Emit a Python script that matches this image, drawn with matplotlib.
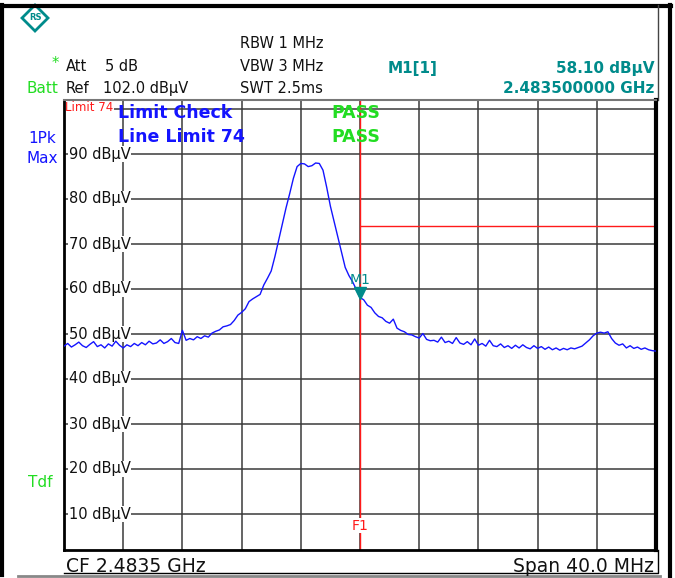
import numpy as np
import matplotlib
matplotlib.use('Agg')
import matplotlib.pyplot as plt
import matplotlib.transforms as mtransforms
from matplotlib.patches import Polygon

# instrument settings
cf_mhz = 2483.5
span_mhz = 40.0
ref_level = 102.0
limit_level = 74
marker_freq = 2483.5
marker_level = 58.10
y_ticks = [90, 80, 70, 60, 50, 40, 30, 20, 10]

# trace levels (dBuV), every 0.25 MHz from 2463.5 to 2503.5 MHz
trace_dbuv = [
    47.3, 47.9, 47.1, 47.6, 48.2, 47.4, 47.0, 47.7, 48.3, 47.2,
    47.6, 46.9, 47.8, 47.3, 48.4, 47.5, 46.9, 47.6, 47.2, 47.9,
    47.4, 48.1, 47.6, 48.4, 47.8, 48.0, 48.7, 47.9, 48.3, 49.0,
    48.1, 47.9, 50.8, 48.6, 49.0, 48.7, 49.4, 49.0, 49.6, 49.3,
    50.2, 50.6, 50.9, 51.6, 51.8, 52.1, 53.0, 54.2, 54.8, 55.6,
    57.2, 57.8, 58.3, 58.8, 60.9, 62.4, 64.0, 67.2, 70.8, 74.5,
    78.0, 81.2, 84.6, 87.2, 87.9, 87.8, 87.2, 87.4, 88.0, 87.9,
    86.4, 82.6, 78.4, 75.0, 71.6, 68.2, 64.8, 63.0, 61.6, 59.9,
    58.1, 57.6, 56.4, 55.9, 54.7, 53.9, 53.6, 52.8, 52.4, 53.3,
    51.3, 50.8, 50.5, 49.9, 49.8, 49.4, 49.1, 50.1, 48.8, 48.5,
    48.6, 48.2, 49.3, 48.1, 48.4, 47.9, 49.2, 48.0, 47.7, 48.3,
    47.6, 48.9, 47.5, 47.9, 47.3, 48.6, 47.4, 47.2, 47.8, 47.0,
    47.4, 46.8, 47.5, 46.9, 47.6, 47.0, 46.7, 47.4, 46.8, 47.2,
    46.6, 47.1, 46.5, 46.9, 46.4, 46.8, 46.5, 46.9, 46.7, 47.0,
    47.3, 48.0, 48.7, 49.6, 50.2, 50.4, 50.2, 50.5, 49.0, 48.0,
    47.5, 47.8, 46.9, 47.4, 46.8, 47.1, 46.6, 46.9, 46.5, 46.3,
    46.2,
]

f_start = cf_mhz - span_mhz / 2
f_stop = cf_mhz + span_mhz / 2
freqs = np.linspace(f_start, f_stop, len(trace_dbuv))

BLUE = '#1414ff'
TEAL = '#008b8b'
GREEN = '#22dd22'
RED = '#ff1a1a'
GRID = '#3a3a3a'

W, H = 675, 578
fig = plt.figure(figsize=(W / 100, H / 100), dpi=100)
fig.patch.set_facecolor('white')

# plot window in pixels: x 64..656, y 100..550
ax = fig.add_axes([64 / W, (H - 550) / H, 592 / W, 450 / H])
ax.set_xlim(f_start, f_stop)
ax.set_ylim(ref_level - 100, ref_level)
ax.set_xticks([])
ax.set_yticks([])
for side in ['left', 'bottom']:
    ax.spines[side].set_linewidth(2)
    ax.spines[side].set_color('black')
ax.spines['right'].set_linewidth(3)
ax.spines['top'].set_linewidth(1.5)
ax.spines['top'].set_color('#777777')

# grid: 10 dB / div, span / 10 per div
for lvl in range(10, 101, 10):
    ax.axhline(lvl, color=GRID, lw=1.1, zorder=1)
for f in np.linspace(f_start, f_stop, 11)[1:-1]:
    ax.axvline(f, color=GRID, lw=1.1, zorder=1)

ylab_tf = ax.get_yaxis_transform()
for lvl in y_ticks:
    ax.text(0.008, lvl, f'{lvl} dBµV', transform=ylab_tf, fontsize=10.5,
            va='center', ha='left', color='#111111', zorder=2,
            bbox=dict(facecolor='white', edgecolor='none', pad=0.6))

ax.text(0.002, 100.3, f'Limit {limit_level}', transform=ylab_tf, fontsize=8.5,
        color=RED, va='center', ha='left', zorder=2,
        bbox=dict(facecolor='white', edgecolor='none', pad=0.5))

# limit line and F1 frequency line
ax.axvline(marker_freq, color=RED, lw=1, zorder=2.5)
ax.hlines(limit_level, marker_freq, f_stop, color=RED, lw=1, zorder=2.5)
ax.text(marker_freq, 7.4, 'F1', color=RED, fontsize=10, ha='center', va='center',
        zorder=2.6, bbox=dict(facecolor='white', edgecolor='none', pad=0.3))

ax.plot(freqs, trace_dbuv, color=BLUE, lw=1, zorder=3)

# marker M1
up = mtransforms.offset_copy(ax.transData, fig=fig, x=0, y=5, units='dots')
ax.plot([marker_freq], [marker_level], marker='v', color=TEAL, ms=8,
        transform=up, zorder=4, clip_on=False)
ax.annotate('M1', (marker_freq, marker_level), xytext=(0, 14), textcoords='offset pixels',
            color=TEAL, fontsize=10, ha='center', va='baseline', zorder=4)

lim_tf = ax.get_yaxis_transform()
ax.text(0.091, 98.0, 'Limit Check', transform=lim_tf, color=BLUE, fontsize=12.5,
        fontweight='bold', va='baseline', zorder=5)
ax.text(0.091, 92.6, f'Line Limit {limit_level}', transform=lim_tf, color=BLUE,
        fontsize=12.5, fontweight='bold', va='baseline', zorder=5)
ax.text(0.451, 98.0, 'PASS', transform=lim_tf, color=GREEN, fontsize=12.5,
        fontweight='bold', va='baseline', zorder=5)
ax.text(0.451, 92.6, 'PASS', transform=lim_tf, color=GREEN, fontsize=12.5,
        fontweight='bold', va='baseline', zorder=5)

# screen frame and header drawn in pixel coordinates
ov = fig.add_axes([0, 0, 1, 1], zorder=-1)
ov.set_xlim(0, W)
ov.set_ylim(H, 0)
ov.axis('off')

ov.plot([2, 2], [5, 575], color='black', lw=3)
ov.plot([0, 671], [5.5, 5.5], color='black', lw=3)
ov.plot([669.5, 669.5], [5, H], color='black', lw=3)
ov.plot([658, 658], [5, 100], color='#444444', lw=1)
ov.plot([18, 660], [575.5, 575.5], color='#888888', lw=2)
ov.plot([64, 657.5, 657.5], [573, 573, 550], color='black', lw=1)

# R&S logo
ov.add_patch(Polygon([[35, 5], [48, 18], [35, 31], [22, 18]], closed=True,
                     fill=False, edgecolor=TEAL, lw=2))
ov.text(35, 18, 'RS', color=TEAL, fontsize=6, fontweight='bold', ha='center', va='center')

hdr = dict(fontsize=10.5, color='#111111', va='baseline')
ov.text(240, 48, 'RBW 1 MHz', **hdr)
ov.text(240, 71, 'VBW 3 MHz', **hdr)
ov.text(240, 93, 'SWT 2.5ms', **hdr)
ov.text(66, 71, 'Att', **hdr)
ov.text(105, 71, '5 dB', **hdr)
ov.text(66, 93, 'Ref', **hdr)
ov.text(103, 93, f'{ref_level:.1f} dBµV', **hdr)
ov.text(52, 68, '*', color=GREEN, fontsize=10.5, va='baseline')
ov.text(26, 93, 'Batt', color=GREEN, fontsize=11, va='baseline')

ov.text(388, 73, 'M1[1]', color=TEAL, fontsize=11, fontweight='bold', va='baseline')
ov.text(654, 73, f'{marker_level:.2f} dBµV', color=TEAL, fontsize=11,
        fontweight='bold', va='baseline', ha='right')
ov.text(654, 93, f'{marker_freq / 1000:.9f} GHz', color=TEAL, fontsize=11,
        fontweight='bold', va='baseline', ha='right')

ov.text(28, 143, '1Pk', color=BLUE, fontsize=11, va='baseline')
ov.text(26, 163, 'Max', color=BLUE, fontsize=11, va='baseline')
ov.text(28, 487, 'Tdf', color=GREEN, fontsize=11, va='baseline')

ov.text(66, 572, f'CF {cf_mhz / 1000:.4f} GHz', fontsize=13.5, color='#111111', va='baseline')
ov.text(654, 572, f'Span {span_mhz:.1f} MHz', fontsize=13.5, color='#111111',
        va='baseline', ha='right')

fig.savefig('out.png', dpi=100, facecolor='white')
